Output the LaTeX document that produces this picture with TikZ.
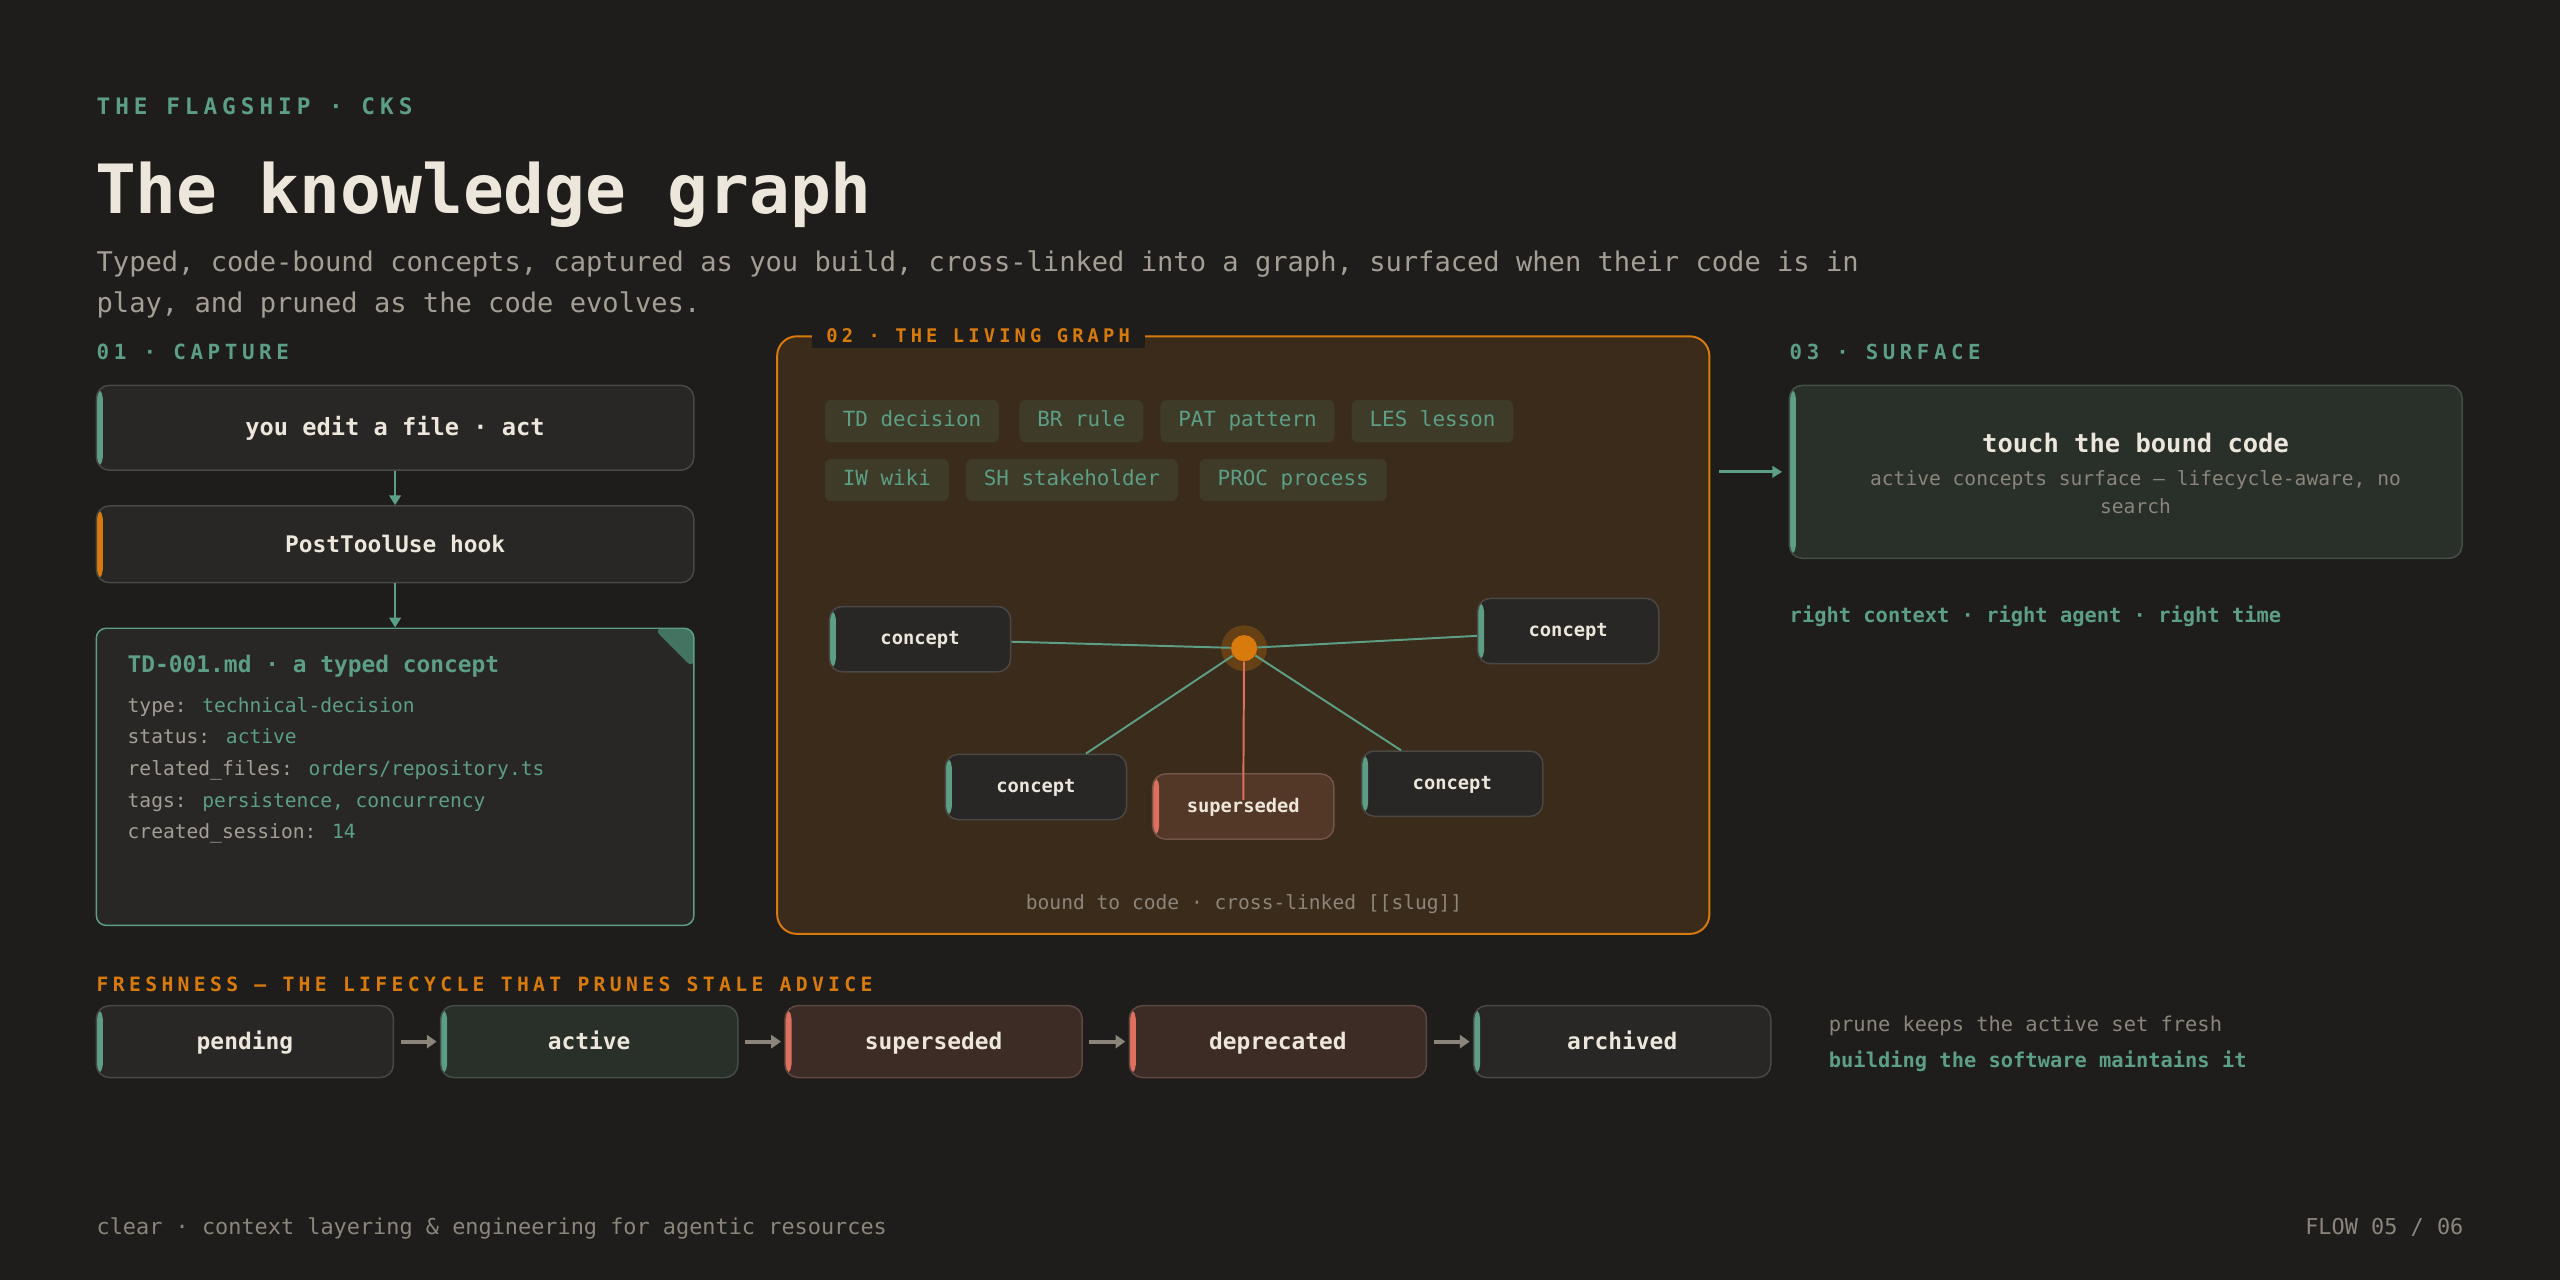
\documentclass[tikz,border=0pt]{standalone}
\usepackage{fontspec}
\setmainfont{DejaVu Sans Mono}
\newfontfamily\spacedfont[LetterSpace=22]{DejaVu Sans Mono}
\usetikzlibrary{arrows.meta,positioning}

\definecolor{bg}{HTML}{1E1D1B}
\definecolor{cream}{HTML}{ECE6DB}
\definecolor{sage}{HTML}{5C9E86}
\definecolor{amber}{HTML}{D97B0C}
\definecolor{salmon}{HTML}{E0705E}
\definecolor{soft}{HTML}{A49E95}
\definecolor{muted}{HTML}{8C857C}
\definecolor{cardfill}{HTML}{282726}
\definecolor{cardline}{HTML}{4A4845}
\definecolor{greencard}{HTML}{283029}
\definecolor{greenline}{HTML}{434E47}
\definecolor{rustcard}{HTML}{3D2B25}
\definecolor{rustline}{HTML}{5E4740}
\definecolor{panelfill}{HTML}{3B2B1B}
\definecolor{tagfill}{HTML}{3E3B29}
\definecolor{supfill}{HTML}{533727}
\definecolor{supline}{HTML}{735446}
\definecolor{foldfill}{HTML}{437462}

\newcommand\sz[2]{\fontsize{#1}{#2}\selectfont}

\tikzset{
  heading/.style={anchor=base west, inner sep=0pt, font=\spacedfont\bfseries\sz{#1}{15}},
  card/.style={draw=cardline, fill=cardfill, line width=0.9pt, rounded corners=8pt,
    inner sep=0pt, text=cream},
  stripe/.style={path picture={\fill[#1] (path picture bounding box.north west)
    rectangle ([xshift=4pt]path picture bounding box.south west);}},
  tag/.style={fill=tagfill, rounded corners=4pt, text=sage, inner xsep=11pt, inner ysep=0pt,
    minimum height=26pt, text height=9.5pt, text depth=2.8pt, anchor=west, font=\sz{12.8}{15}},
  concept/.style={card, stripe=sage, minimum width=111pt, minimum height=40pt,
    text height=9pt, text depth=2pt, font=\bfseries\sz{11.5}{14}},
  stage/.style={card, minimum width=182pt, minimum height=44pt,
    text height=11.5pt, text depth=2pt, font=\bfseries\sz{14}{17}},
  link/.style={draw=sage, line width=1.2pt},
  deadlink/.style={draw=salmon, line width=1.2pt},
  down/.style={draw=sage, line width=1.5pt, -{Triangle[length=6pt,width=7pt]}},
  flow/.style={draw=muted, line width=2.5pt, -{Triangle[length=6pt,width=8pt]},
    shorten <=4pt, shorten >=2pt},
}

\begin{document}
\begin{tikzpicture}[x=1pt, y=-1pt]
\useasboundingbox[fill=bg] (0,0) rectangle (1568,784);

% header
\node[heading=13.9, text=sage] (kicker) at (59,70) {THE FLAGSHIP · CKS};
\node[anchor=base west, inner sep=0pt, text=cream, font=\bfseries\sz{41.6}{48}] (title) at (58,131) {The knowledge graph};
\node[anchor=north west, inner sep=0pt, align=left, text=soft, font=\sz{16.6}{25}] (lede) at (59,153.5)
  {Typed, code-bound concepts, captured as you build, cross-linked into a graph, surfaced when their code is in\\play, and pruned as the code evolves.};

% 01 capture
\node[heading=12.8, text=sage] (capture) at (59,220) {01 · CAPTURE};
\node[card, stripe=sage, minimum width=366pt, minimum height=52pt, text height=11.5pt, text depth=2pt,
  font=\bfseries\sz{14.5}{17}] (edit) at (242,262) {you edit a file · act};
\node[card, stripe=amber, minimum width=366pt, minimum height=47pt, text height=11.5pt, text depth=2pt,
  font=\bfseries\sz{14}{17}, below=21pt of edit] (hook) {PostToolUse hook};
\node[card, draw=sage, rounded corners=6pt, minimum width=366pt, minimum height=182pt, below=27pt of hook,
  path picture={\fill[foldfill] ([xshift=-25pt]path picture bounding box.north east)
    -- (path picture bounding box.north east) -- ([yshift=-25pt]path picture bounding box.north east) -- cycle;}] (file) {};
\draw[down] (edit) -- (hook);
\draw[down] (hook) -- (file);
\node[anchor=base west, inner sep=0pt, text=sage, font=\bfseries\sz{14}{17}] (fname) at (78,412) {TD-001.md · a typed concept};
\node[anchor=north west, inner sep=0pt, align=left, text=sage, font=\sz{12}{19.3}] (meta) at (78,427)
  {\textcolor{soft}{type:} technical-decision\\
   \textcolor{soft}{status:} active\\
   \textcolor{soft}{related\_files:} orders/repository.ts\\
   \textcolor{soft}{tags:} persistence, concurrency\\
   \textcolor{soft}{created\_session:} 14};

% 02 the living graph
\node[draw=amber, fill=panelfill, line width=1.2pt, rounded corners=12pt, minimum width=571pt,
  minimum height=366pt] (graph) at (761.5,389) {};
\node[heading=11.5, text=amber, fill=bg, anchor=west, inner xsep=9pt, inner ysep=3pt] (graphtitle) at (497,205.5) {02 · THE LIVING GRAPH};

\node[tag] (td) at (505,258) {TD decision};
\node[tag, right=12pt of td] (br) {BR rule};
\node[tag, right=10pt of br] (pat) {PAT pattern};
\node[tag, right=10pt of pat] (les) {LES lesson};
\node[tag] (iw) at (505,294) {IW wiki};
\node[tag, right=10pt of iw] (sh) {SH stakeholder};
\node[tag, right=13pt of sh] (proc) {PROC process};

\node[circle, fill=amber, minimum size=16pt, inner sep=0pt] (hub) at (762,397) {};
\fill[amber, opacity=.28] (hub) circle[radius=14pt];
\node[concept] (c1) at (563.5,391.5) {concept};
\node[concept] (c2) at (960.5,386.5) {concept};
\node[concept] (c3) at (634.5,482) {concept};
\node[concept] (c4) at (889.5,480) {concept};
\node[concept, fill=supfill, draw=supline, stripe=salmon] (old) at (761.5,494) {superseded};
\draw[link] (c1) -- (hub);
\draw[link] (hub) -- (c2);
\draw[link] (hub) -- (c3);
\draw[link] (hub) -- (c4);
\draw[deadlink] (hub) -- ([yshift=4pt]old.center);
\node[text=muted, inner sep=0pt, font=\sz{12}{14}] (caption) at (762,554) {bound to code · cross-linked [[slug]]};

% 03 surface
\node[heading=12.7, text=sage] (surface) at (1096,220) {03 · SURFACE};
\node[card, fill=greencard, draw=greenline, stripe=sage, minimum width=412pt, minimum height=106pt] (touch) at (1302,289) {};
\node[anchor=base, inner sep=0pt, text=cream, font=\bfseries\sz{15.6}{19}] (touchtitle) at (1308,277) {touch the bound code};
\node[anchor=north, inner sep=0pt, align=center, text=muted, font=\sz{12}{17}] (touchnote) at (1308,288)
  {active concepts surface — lifecycle-aware, no\\search};
\coordinate (feedstart) at (graph.east |- touch.west);
\draw[down, line width=2pt] ([xshift=5pt]feedstart) -- ([xshift=-4pt]touch.west);
\node[anchor=base west, inner sep=0pt, text=sage, font=\bfseries\sz{12.5}{15}] (right) at (1096,381) {right context · right agent · right time};

% freshness lifecycle
\node[heading=12.08, text=amber] (fresh) at (59,607) {FRESHNESS — THE LIFECYCLE THAT PRUNES STALE ADVICE};
\node[stage, stripe=sage] (pending) at (150,638) {pending};
\node[stage, fill=greencard, draw=greenline, stripe=sage, right=28pt of pending] (active) {active};
\node[stage, fill=rustcard, draw=rustline, stripe=salmon, right=28pt of active] (superseded) {superseded};
\node[stage, fill=rustcard, draw=rustline, stripe=salmon, right=28pt of superseded] (deprecated) {deprecated};
\node[stage, stripe=sage, right=28pt of deprecated] (archived) {archived};
\foreach \a/\b in {pending/active, active/superseded, superseded/deprecated, deprecated/archived}
  \draw[flow] (\a) -- (\b);
\node[anchor=base west, inner sep=0pt, text=muted, font=\sz{12.5}{15}] (prune) at (1120,632) {prune keeps the active set fresh};
\node[anchor=base west, inner sep=0pt, text=sage, font=\bfseries\sz{12.5}{15}] (maintain) at (1120,654) {building the software maintains it};

% footer
\node[anchor=base west, inner sep=0pt, text=muted, font=\sz{13.4}{16}] (footer) at (59,756) {clear · context layering \& engineering for agentic resources};
\node[anchor=base east, inner sep=0pt, text=muted, font=\sz{13.4}{16}] (pageno) at (1509,756) {FLOW 05 / 06};
\end{tikzpicture}
\end{document}
